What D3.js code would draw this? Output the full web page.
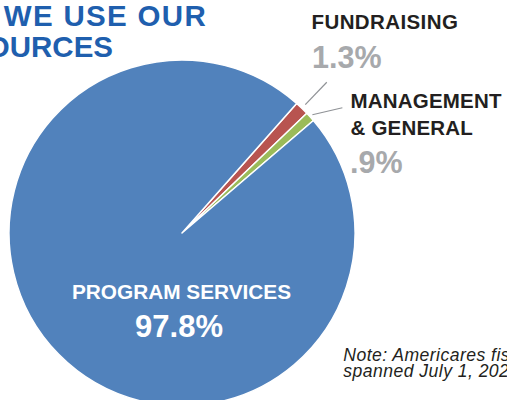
<!DOCTYPE html>
<html>
<head>
<meta charset="utf-8">
<script src="https://cdn.jsdelivr.net/npm/d3@7/dist/d3.min.js"></script>
<style>
  html, body { margin: 0; padding: 0; background: #fff; overflow: hidden; }
  svg { display: block; }
  text { font-family: "Liberation Sans", Arial, Helvetica, sans-serif; }
</style>
</head>
<body>
<svg id="chart" width="507" height="400"></svg>
<script>
const categories = ["FUNDRAISING", "MANAGEMENT & GENERAL", "PROGRAM SERVICES"];
const values = [1.3, 0.9, 97.8];
const valueLabels = ["1.3%", ".9%", "97.8%"];
const colors = ["#B85450", "#9BBB59", "#5182BC"];
const titleLines = ["HOW WE USE OUR", "RESOURCES"];
const noteLines = ["Note: Americares fiscal year 2023", "spanned July 1, 2022 to June 30, 2023."];

const svg = d3.select("#chart");
const cx = 182, cy = 233, r = 173;
const startDeg = 41.5;

const data = categories.map((c, i) => ({ name: c, value: values[i], label: valueLabels[i], color: colors[i] }));

const pie = d3.pie().sort(null).value(d => d.value)
  .startAngle(startDeg * Math.PI / 180)
  .endAngle(startDeg * Math.PI / 180 + 2 * Math.PI);
const arcs = pie(data);
const arc = d3.arc().innerRadius(0).outerRadius(r);

const g = svg.append("g").attr("transform", `translate(${cx},${cy})`);
g.selectAll("path").data(arcs).join("path")
  .attr("d", arc)
  .attr("fill", d => d.data.color)
  .attr("stroke", "#fff")
  .attr("stroke-width", 1.5)
  .attr("stroke-linejoin", "round");

// leader lines
function polar(a, rad) { return [Math.sin(a) * rad, -Math.cos(a) * rad]; }
const mid0 = (arcs[0].startAngle + arcs[0].endAngle) / 2;
const mid1 = (arcs[1].startAngle + arcs[1].endAngle) / 2;
const p0a = polar(mid0, r + 5), p0b = polar(mid0, r + 36);
const p1a = polar(mid1, r + 3), p1b = [p1a[0] + 30, p1a[1] - 7];
[[p0a, p0b], [p1a, p1b]].forEach(([a, b]) => {
  g.append("line").attr("x1", a[0]).attr("y1", a[1]).attr("x2", b[0]).attr("y2", b[1])
    .attr("stroke", "#8f9296").attr("stroke-width", 1.2);
});

const dark = "#231F20", gray = "#A7A9AC", blueTitle = "#1F5FAE";

// title
svg.append("text").attr("x", 207).attr("y", 26).attr("text-anchor", "end")
  .attr("font-size", 29.5).attr("font-weight", "bold").attr("fill", blueTitle)
  .attr("letter-spacing", 1.3).text(titleLines[0]);
svg.append("text").attr("x", 113).attr("y", 57.3).attr("text-anchor", "end")
  .attr("font-size", 29.5).attr("font-weight", "bold").attr("fill", blueTitle)
  .text(titleLines[1]);

// fundraising label
svg.append("text").attr("x", 311.5).attr("y", 29.3)
  .attr("font-size", 20.5).attr("font-weight", "bold").attr("fill", dark)
  .attr("letter-spacing", 0.4).text(categories[0]);
svg.append("text").attr("x", 312).attr("y", 68.3)
  .attr("font-size", 30.5).attr("font-weight", "bold").attr("fill", gray)
  .text(valueLabels[0]);

// management label
const mg = categories[1].split(" & ");
svg.append("text").attr("x", 350.5).attr("y", 108.3)
  .attr("font-size", 20.5).attr("font-weight", "bold").attr("fill", dark)
  .attr("letter-spacing", 0.2).text(mg[0]);
svg.append("text").attr("x", 350.5).attr("y", 135)
  .attr("font-size", 20.5).attr("font-weight", "bold").attr("fill", dark)
  .attr("letter-spacing", 0.2).text("& " + mg[1]);
svg.append("text").attr("x", 350).attr("y", 173.3)
  .attr("font-size", 30.5).attr("font-weight", "bold").attr("fill", gray)
  .text(valueLabels[1]);

// program services label
svg.append("text").attr("x", 181.5).attr("y", 299.3).attr("text-anchor", "middle")
  .attr("font-size", 20.8).attr("font-weight", "bold").attr("fill", "#fff")
  .text(categories[2]);
svg.append("text").attr("x", 179).attr("y", 336.7).attr("text-anchor", "middle")
  .attr("font-size", 31).attr("font-weight", "bold").attr("fill", "#fff")
  .text(valueLabels[2]);

// note
noteLines.forEach((t, i) => {
  svg.append("text").attr("x", 343.3).attr("y", 360.7 + i * 16)
    .attr("font-size", 17.6).attr("font-style", "italic").attr("fill", dark)
    .attr("letter-spacing", 0.45).text(t);
});
</script>
</body>
</html>
